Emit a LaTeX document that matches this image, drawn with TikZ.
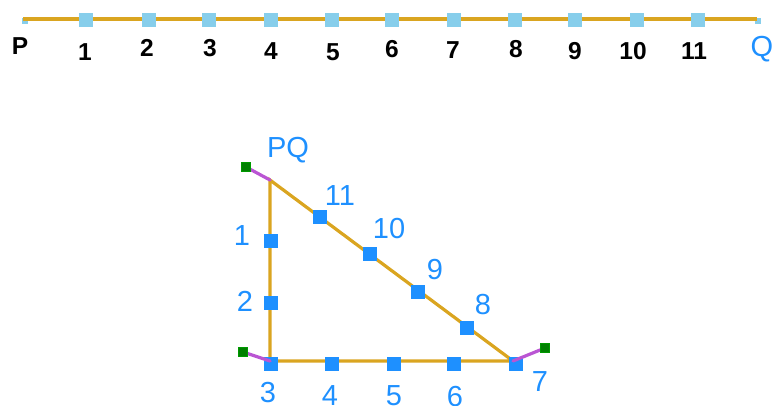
\documentclass[tikz,border=0pt]{standalone}
\usepackage{fontspec}
\setmainfont{Liberation Sans}
\definecolor{skyb}{RGB}{135,206,235}
\definecolor{dblue}{RGB}{30,144,255}
\definecolor{gold}{RGB}{218,165,32}
\definecolor{orch}{RGB}{186,85,211}
\definecolor{dgreen}{RGB}{0,128,0}
\begin{document}
\begin{tikzpicture}[x=1pt,y=-1pt,
  psq/.style={rectangle,fill=skyb,minimum size=6pt,inner sep=0pt},
  tsq/.style={rectangle,fill=skyb,minimum size=14pt,inner sep=0pt},
  bsq/.style={rectangle,fill=dblue,minimum size=14pt,inner sep=0pt},
  gsq/.style={rectangle,fill=dgreen,draw=green!60!black,line width=0.6pt,minimum size=9pt,inner sep=0pt},
  goldline/.style={draw=gold,line width=3.2pt},
  orchline/.style={draw=orch,line width=3.2pt,line cap=round},
  klab/.style={inner sep=0pt,text=black,font=\fontsize{24.5}{26}\selectfont\bfseries},
  blab/.style={inner sep=0pt,text=dblue,font=\fontsize{29}{32}\selectfont}]
\useasboundingbox (0,0) rectangle (776,405);
% top strip
\node[psq] (P) at (25,21) {};
\node[psq] (Q) at (758,21) {};
\coordinate (La) at (23,19);
\coordinate (Lb) at (757,19);
\draw[goldline] (La) -- (Lb);
\foreach \i/\x in {1/86,2/149,3/209,4/271,5/332,6/392,7/454,8/515,9/575,10/637,11/698}{
  \node[tsq] (t\i) at (\x,20) {};
}
\node[klab] (lP) at (20,46) {P};
\foreach \i/\x/\y in {1/85/52,2/147/48,3/210/48,4/271/51,5/333/52,6/392/49,7/453/50,8/516/49,9/575/51,10/633/51,11/694/51}{
  \node[klab] (lt\i) at (\x,\y) {\i};
}
\node[blab] (lQ) at (762,49) {Q};
% triangle
\coordinate (T) at (270,180);
\coordinate (BL) at (270,361);
\coordinate (BR) at (513,361);
\draw[goldline] (T) -- (BL) -- (BR) -- cycle;
\foreach \i/\x/\y in {1/271/241,2/271/303,3/271/364,4/332/364,5/394/364,6/454/364,7/516/364,8/467/328,9/418/292,10/370/254,11/320/217}{
  \node[bsq] (b\i) at (\x,\y) {};
}
\coordinate (G1) at (246,167);
\coordinate (G2) at (243,352);
\coordinate (G3) at (545,348);
\draw[orchline] (T) -- (G1);
\draw[orchline] (BL) -- (G2);
\draw[orchline] (BR) -- (G3);
\node[gsq] (g1) at (G1) {};
\node[gsq] (g2) at (G2) {};
\node[gsq] (g3) at (G3) {};
\node[blab] (lPQ) at (288,150) {PQ};
\foreach \i/\x/\y in {1/242/236,2/245/301,3/268/393,4/330/396,5/394/396,6/455/397,7/540/382,8/483/305,9/435/270,10/389/229,11/340/196}{
  \node[blab] (lb\i) at (\x,\y) {\i};
}
\end{tikzpicture}
\end{document}
